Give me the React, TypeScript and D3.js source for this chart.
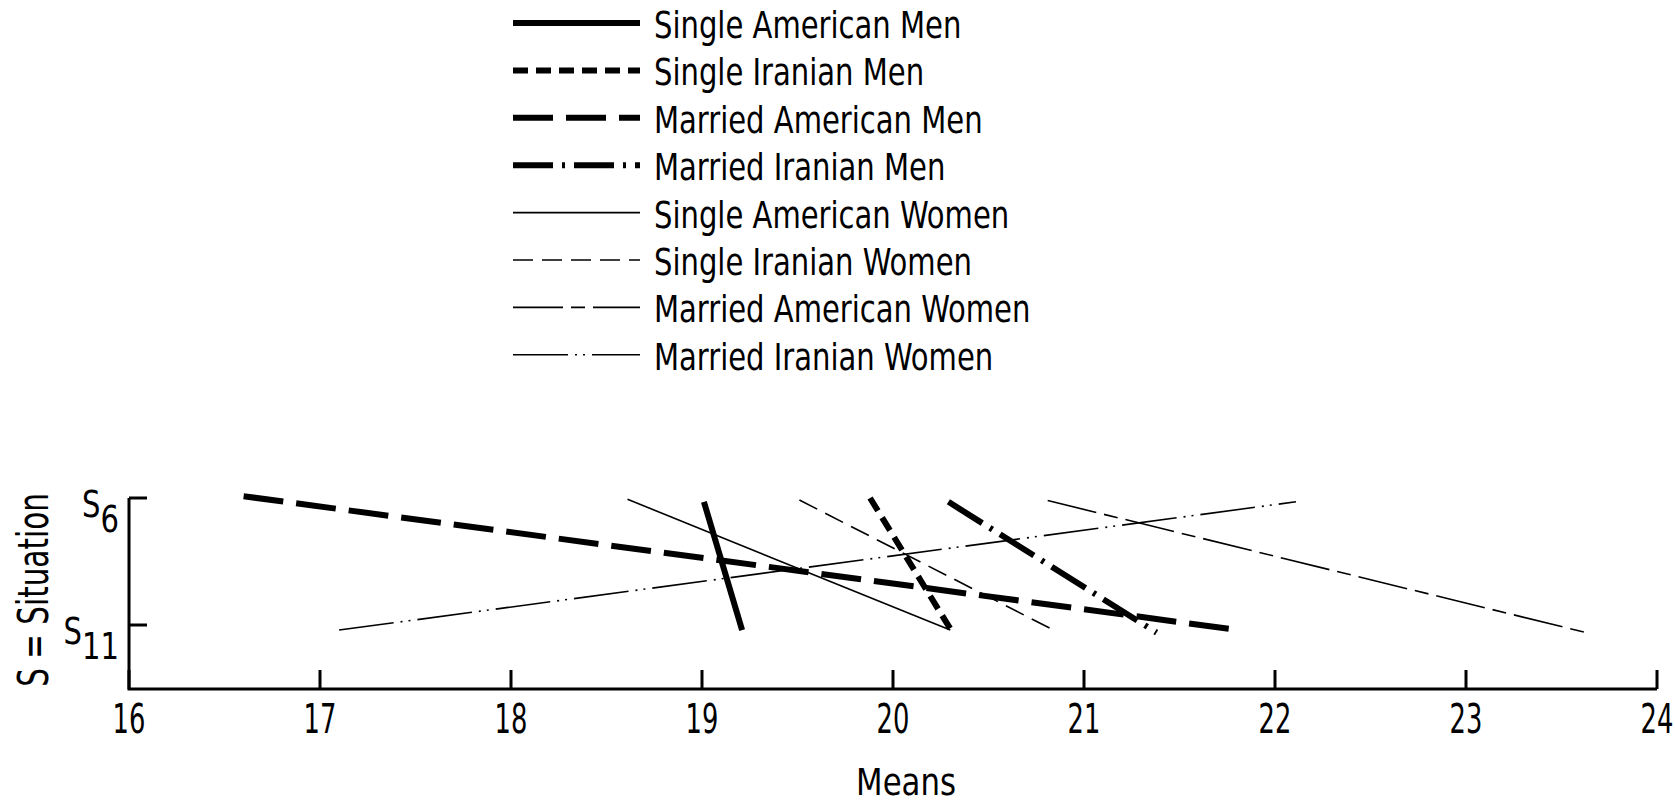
import React from 'react';
import * as d3 from 'd3';

// series: each one runs from S6 to S11
const seriesNames = [
  'Single American Men',
  'Single Iranian Men',
  'Married American Men',
  'Married Iranian Men',
  'Single American Women',
  'Single Iranian Women',
  'Married American Women',
  'Married Iranian Women',
];
const startMeans = [19.01, 19.88, 16.6, 20.29, 18.61, 19.51, 20.81, 17.1];
const startSituation = [6.15, 6.0, 5.93, 6.15, 6.05, 6.08, 6.1, 11.2];
const endMeans = [19.21, 20.3, 21.81, 21.38, 20.3, 20.84, 23.63, 22.11];
const endSituation = [11.2, 11.15, 11.2, 11.3, 11.2, 11.2, 11.3, 6.15];

const xTicks = [16, 17, 18, 19, 20, 21, 22, 23, 24];
const yTicks = [6, 11];

// line looks: [stroke width, dasharray]
const styles: [number, string][] = [
  [6, 'none'],
  [6, '15 8'],
  [6, '40 13'],
  [6, '40 9 3 9'],
  [1.6, 'none'],
  [1.6, '20 9'],
  [1.6, '50 8 14 8'],
  [1.6, '55 7 2 6 2 7'],
];

const W = 1675;
const H = 804;
const FONT = "'Liberation Sans Narrow', 'DejaVu Sans Condensed', 'Liberation Sans', sans-serif";

// condensed text: squeeze horizontally around its anchor point
const Txt: React.FC<{ x: number; y: number; size: number; sx?: number; anchor?: string; rotate?: number; children: React.ReactNode }> =
  ({ x, y, size, sx = 0.85, anchor = 'start', rotate = 0, children }) => (
    <g transform={`translate(${x},${y}) rotate(${rotate}) scale(${sx},1)`}>
      <text x={0} y={0} fontSize={size} textAnchor={anchor} fill="#000">{children}</text>
    </g>
  );

export default function App() {
  const x = d3.scaleLinear().domain([16, 24]).range([129, 1657]);
  const y = d3.scaleLinear().domain([6, 11]).range([498, 625]);
  const yBottom = y(13.52);

  const line = d3.line<[number, number]>()
    .x(d => x(d[0]))
    .y(d => y(d[1]));

  const legendX0 = 513;
  const legendX1 = 640;
  const legendY0 = 23;
  const legendStep = 47.4;

  return (
    <svg width={W} height={H} style={{ position: 'absolute', left: 0, top: 0, background: '#fff' }}
      fontFamily={FONT} fontStretch="condensed">
      {/* legend */}
      {seriesNames.map((name, i) => {
        const ly = legendY0 + i * legendStep;
        return (
          <g key={name}>
            <line x1={legendX0} x2={legendX1} y1={ly} y2={ly} stroke="#000"
              strokeWidth={styles[i][0]} strokeDasharray={styles[i][1]} />
            <Txt x={654} y={ly + 15} size={38}>{name}</Txt>
          </g>
        );
      })}

      {/* axes */}
      <path d={`M${x(16)},${y(6)}V${yBottom}H${x(24)}`} fill="none" stroke="#000" strokeWidth={3} />
      {xTicks.map(t => (
        <g key={t}>
          <line x1={x(t)} x2={x(t)} y1={yBottom} y2={yBottom - 19} stroke="#000" strokeWidth={3} />
          <Txt x={x(t)} y={yBottom + 44} size={41} sx={0.7} anchor="middle">{t}</Txt>
        </g>
      ))}
      {yTicks.map(t => (
        <g key={t}>
          <line x1={x(16)} x2={x(16) + 18} y1={y(t)} y2={y(t)} stroke="#000" strokeWidth={3} />
          <Txt x={x(16) - 10} y={y(t) + 19} size={38} anchor="end">
            S<tspan dy={15}>{t}</tspan>
          </Txt>
        </g>
      ))}
      <Txt x={906} y={795} size={38} sx={0.9} anchor="middle">Means</Txt>
      <Txt x={48} y={590} size={42} sx={0.78} anchor="middle" rotate={-90}>S = Situation</Txt>

      {/* data lines */}
      {seriesNames.map((name, i) => (
        <path key={name}
          d={line([[startMeans[i], startSituation[i]], [endMeans[i], endSituation[i]]]) || ''}
          fill="none" stroke="#000" strokeWidth={styles[i][0]}
          strokeDasharray={styles[i][1]} strokeLinecap="butt" />
      ))}
    </svg>
  );
}
